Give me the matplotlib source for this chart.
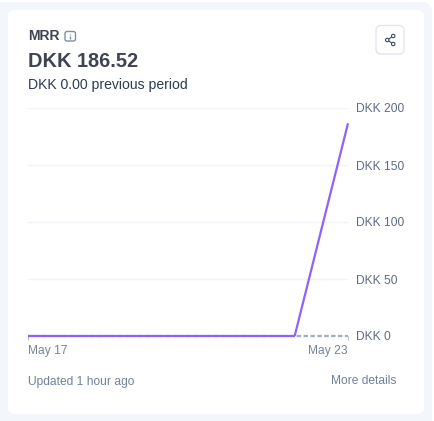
import matplotlib
matplotlib.use("Agg")
import matplotlib.pyplot as plt
from matplotlib.patches import FancyBboxPatch, Circle

plt.rcParams['font.family'] = ['Liberation Sans', 'DejaVu Sans']

dates = ["May 17", "May 18", "May 19", "May 20", "May 21", "May 22", "May 23"]
current = [0, 0, 0, 0, 0, 0, 186.52]
previous = [0, 0, 0, 0, 0, 0, 0]
y_ticks = [0, 50, 100, 150, 200]
y_labels = ["DKK 0", "DKK 50", "DKK 100", "DKK 150", "DKK 200"]

W, H = 434, 421
fig = plt.figure(figsize=(W / 100, H / 100), dpi=100, facecolor="white")

bg = fig.add_axes([0, 0, 1, 1])
bg.set_xlim(0, W)
bg.set_ylim(H, 0)
bg.axis("off")


def rbox(x0, y0, x1, y1, r, fc, ec="none", lw=0):
    bg.add_patch(FancyBboxPatch((x0 + r, y0 + r), x1 - x0 - 2 * r, y1 - y0 - 2 * r,
                                boxstyle=f"round,pad={r},rounding_size={r}",
                                fc=fc, ec=ec, lw=lw))


rbox(-20, 2, 432, 440, 10, "#f3f6fa")
rbox(8, 10, 424, 414, 7, "white")

dark = "#3f4453"
bg.text(28, 36.5, "MRR", fontsize=10.1, fontweight="bold", color=dark, va="center", ha="left")
bg.text(28, 61.5, "DKK 186.52", fontsize=14.4, fontweight="bold", color=dark, va="center", ha="left")
bg.text(28, 85, "DKK 0.00 previous period", fontsize=10.1, color="#2f3b52", va="center", ha="left")
bg.text(28, 381.5, "Updated 1 hour ago", fontsize=8.65, color="#71809a", va="center", ha="left")
bg.text(396, 381.5, "More details", fontsize=8.65, color="#71809a", va="center", ha="right")

# info icon
rbox(65, 31.5, 75.5, 41, 2, "white", "#7f90aa", 1.0)
bg.plot([70.3, 70.3], [34, 34.8], color="#7f90aa", lw=1.0, solid_capstyle="butt")
bg.plot([70.3, 70.3], [36.2, 38.6], color="#7f90aa", lw=1.0, solid_capstyle="butt")

# share button
rbox(376, 25.5, 404, 54, 5, "white", "#dfe5ee", 0.9)
icon = "#3d4a60"
pts = [(393.2, 36), (387.2, 40), (393.2, 44)]
bg.plot([p[0] for p in pts], [p[1] for p in pts], color=icon, lw=0.8)
for p in pts:
    bg.add_patch(Circle(p, 1.7, fc="white", ec=icon, lw=0.8, zorder=3))

# chart
px_left, px_right = 28, 348
px_y0, px_y200 = 336, 108
ax = fig.add_axes([px_left / W, 1 - px_y0 / H, (px_right - px_left) / W, (px_y0 - px_y200) / H])
ax.patch.set_alpha(0)
x = list(range(len(dates)))
ax.set_xlim(0, 6)
ax.set_ylim(0, 200)
for s in ax.spines.values():
    s.set_visible(False)
ax.set_axisbelow(True)
ax.yaxis.tick_right()
ax.set_yticks(y_ticks, y_labels)
ax.tick_params(axis="y", length=0, pad=5.5, labelsize=8.65, labelcolor="#5f6b85")
ax.grid(axis="y", color="#f1f4f8", lw=1.0)
ax.set_xticks([0, 6], [dates[0], dates[6]])
ax.tick_params(axis="x", length=3.0, width=0.8, color="#b9c2d0", pad=3.5,
               labelsize=8.65, labelcolor="#76849b")
labs = ax.get_xticklabels()
labs[0].set_ha("left")
labs[1].set_ha("right")
ax.plot(x, previous, color="#a3adbd", lw=1.6, dashes=(2.0, 1.1), clip_on=False, zorder=2)
ax.plot(x[:6], current[:6], color="#9061fb", lw=1.6, clip_on=False, zorder=3, solid_capstyle="butt")
ax.plot(x[5:], current[5:], color="#9061fb", lw=1.6, clip_on=False, zorder=3, solid_capstyle="butt")

fig.savefig("out.png", dpi=100, facecolor="white")
